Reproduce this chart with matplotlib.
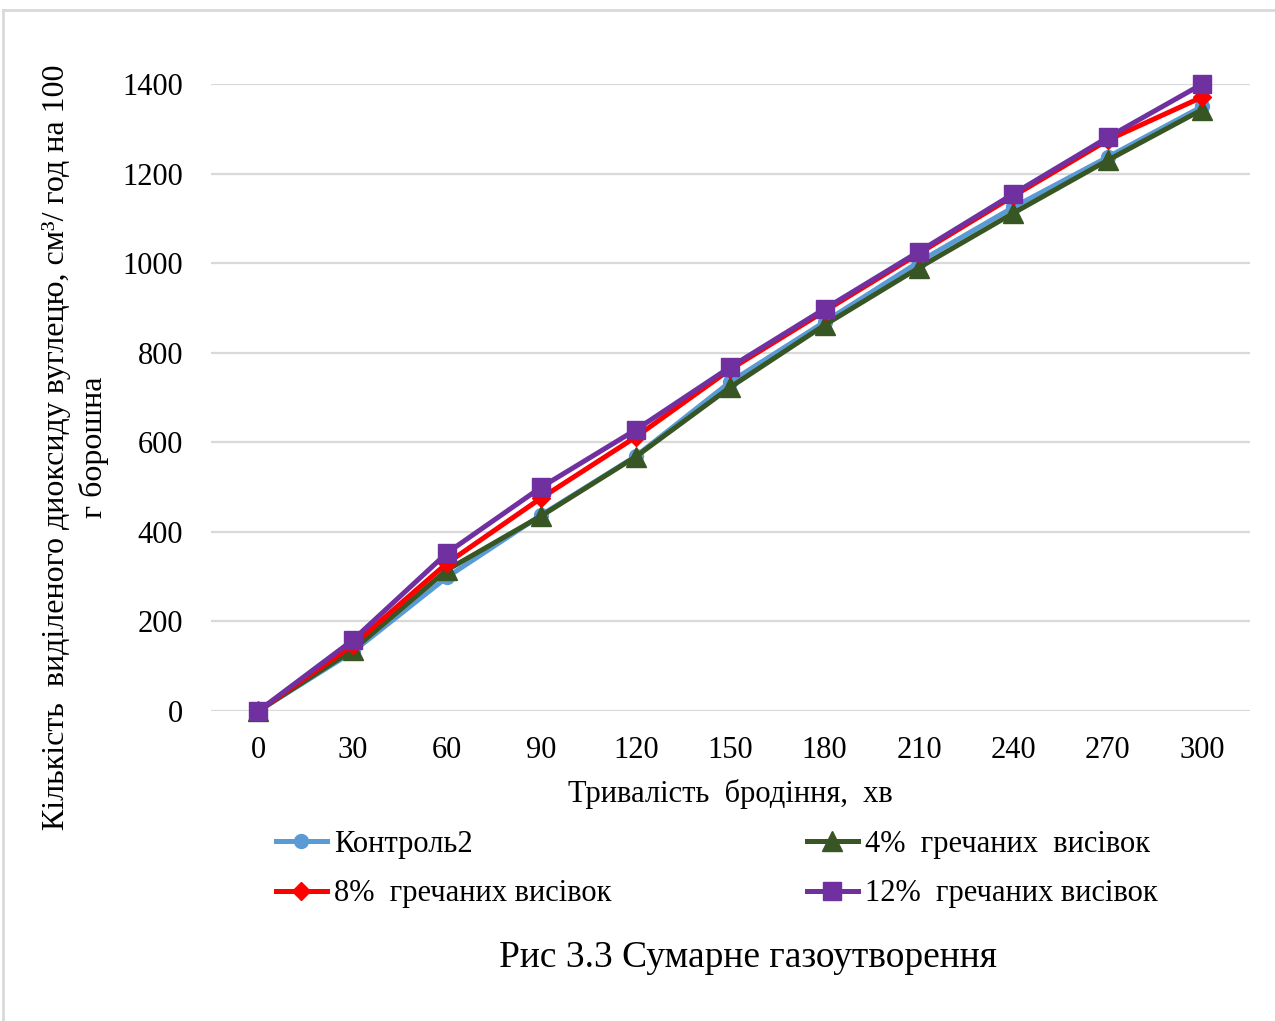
import numpy as np
import matplotlib.pyplot as plt
from matplotlib.lines import Line2D

plt.rcParams['font.family'] = ['Liberation Serif', 'DejaVu Serif']

minutes = ['0', '30', '60', '90', '120', '150', '180', '210', '240', '270', '300']
control2 = [0, 132, 299, 438, 569, 735, 869, 1003, 1125, 1237, 1350]
buck4 = [0, 136, 315, 436, 568, 723, 862, 990, 1112, 1230, 1343]
buck8 = [0, 147, 330, 476, 612, 763, 893, 1022, 1150, 1275, 1371]
buck12 = [0, 158, 353, 500, 628, 768, 898, 1026, 1155, 1281, 1400]

fig = plt.figure(figsize=(12.75, 10.21), dpi=100)
ax = fig.add_axes([0.1655, 0.3036, 0.8145, 0.6141])

x = np.arange(len(minutes))
lw = 3.6
l1, = ax.plot(x, control2, color='#5B9BD5', lw=lw, marker='o', ms=10, clip_on=False, zorder=3)
l2, = ax.plot(x, buck4, color='#375623', lw=lw, marker='^', ms=14, clip_on=False, zorder=4)
l3, = ax.plot(x, buck8, color='#FF0000', lw=lw, marker='D', ms=9, clip_on=False, zorder=5)
l4, = ax.plot(x, buck12, color='#7030A0', lw=lw, marker='s', ms=13, clip_on=False, zorder=6)

ax.set_xlim(-0.5, len(minutes) - 0.5)
ax.set_ylim(0, 1400)
ax.set_yticks(range(0, 1401, 200))
ax.set_xticks(x)
ax.set_xticklabels(minutes)
ax.tick_params(length=0, labelsize=22)
ax.tick_params(axis='x', pad=18)
ax.tick_params(axis='y', pad=20)
ax.grid(axis='y', color='#D9D9D9', lw=1.6)
ax.set_axisbelow(True)
for s in ax.spines.values():
    s.set_visible(False)

ax.set_xlabel('Тривалість  бродіння,  хв', fontsize=22, labelpad=10)
ax.set_ylabel('Кількість  виділеного диоксиду вуглецю, см³/ год на 100\nг борошна',
              fontsize=23, linespacing=1.35)
ax.yaxis.set_label_coords(-0.098, 0.42)

fig.legend([l1, l3, l2, l4],
           ['Контроль2', '8%  гречаних висівок', '4%  гречаних  висівок', '12%  гречаних висівок'],
           loc='upper left', bbox_to_anchor=(0.195, 0.214), ncol=2, frameon=False,
           fontsize=22, handlelength=1.65, handletextpad=0.25, columnspacing=6.4,
           labelspacing=0.67)

fig.text(0.587, 0.062, 'Рис 3.3 Сумарне газоутворення', fontsize=27, ha='center', va='center')

# frame of the embedded chart
fig.add_artist(Line2D([3 / 1275, 3 / 1275], [0, 0.99], color='#D9D9D9', lw=2))
fig.add_artist(Line2D([3 / 1275, 1], [0.99, 0.99], color='#D9D9D9', lw=2))

fig.savefig('out.png', dpi=100)
